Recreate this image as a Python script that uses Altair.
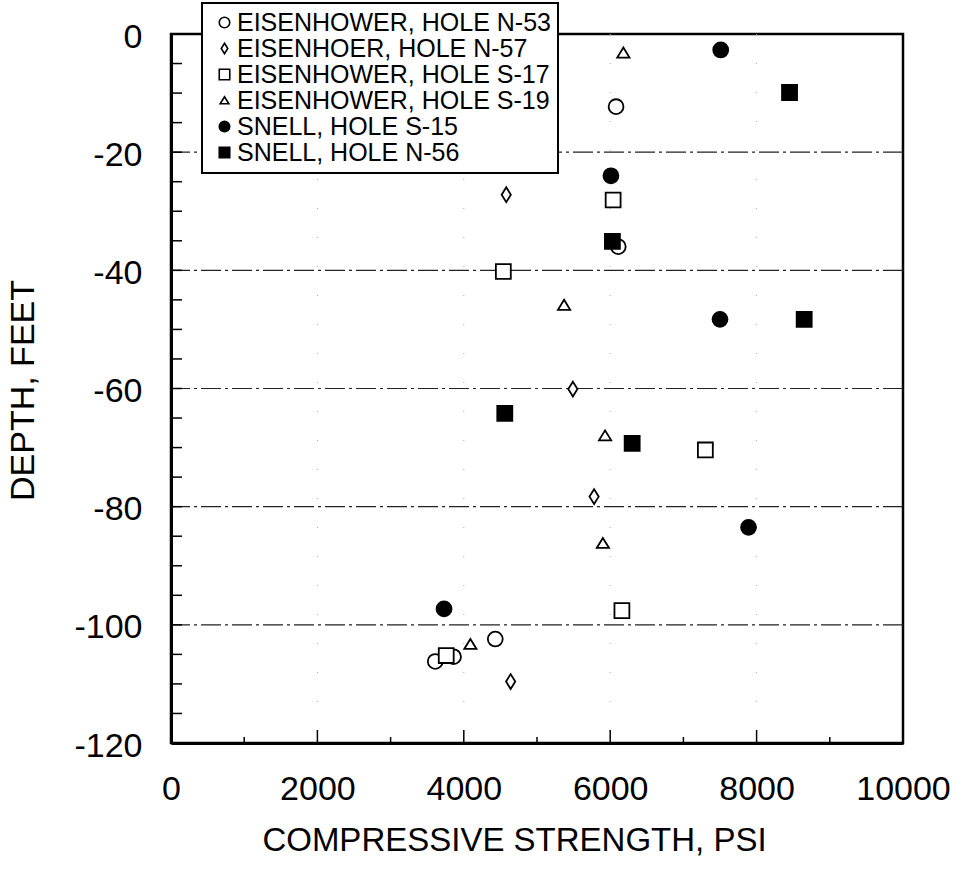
import altair as alt
import pandas as pd

# ---- data ----
series_names = [
    "EISENHOWER, HOLE N-53",
    "EISENHOER, HOLE N-57",
    "EISENHOWER, HOLE S-17",
    "EISENHOWER, HOLE S-19",
    "SNELL, HOLE S-15",
    "SNELL, HOLE N-56",
]
series_codes = ["N53", "N57", "S17", "S19", "S15", "N56"]

n53_psi = [6080, 6110, 4430, 3610, 3860]
n53_depth = [-12.3, -36.0, -102.4, -106.2, -105.4]

n57_psi = [4580, 5490, 5780, 4640]
n57_depth = [-27.2, -60.1, -78.3, -109.6]

s17_psi = [6040, 4540, 7300, 6160, 3760]
s17_depth = [-28.1, -40.2, -70.4, -97.6, -105.2]

s19_psi = [6180, 5370, 5930, 5900, 4090]
s19_depth = [-3.2, -45.9, -68.0, -86.2, -103.3]

s15_psi = [7510, 6010, 7500, 7890, 3730]
s15_depth = [-2.7, -24.0, -48.3, -83.5, -97.3]

n56_psi = [8450, 6030, 8650, 4560, 6300]
n56_depth = [-9.9, -35.1, -48.3, -64.2, -69.3]

x_tick_labels = [0, 2000, 4000, 6000, 8000, 10000]
x_minor_ticks = [1000, 3000, 5000, 7000, 9000]
x_major_ticks = [2000, 4000, 6000, 8000]
y_tick_labels = [0, -20, -40, -60, -80, -100, -120]
y_minor_ticks = [-5, -10, -15, -20, -25, -30, -35, -40, -45, -50, -55, -60,
                 -65, -70, -75, -80, -85, -90, -95, -100, -105, -110, -115]
y_grid = [-20, -40, -60, -80, -100]
x_faint_grid = [2000, 4000, 6000, 8000]

# ---- build table ----
rows = []
for name, code, xs, ys in zip(
    series_names, series_codes,
    [n53_psi, n57_psi, s17_psi, s19_psi, s15_psi, n56_psi],
    [n53_depth, n57_depth, s17_depth, s19_depth, s15_depth, n56_depth],
):
    for x, y in zip(xs, ys):
        rows.append({"series": name, "code": code, "psi": x, "depth": y})
df = pd.DataFrame(rows)

W, H = 732, 709
FONT = "Liberation Sans"

xscale = alt.Scale(domain=[0, 10000], nice=False, zero=False)
yscale = alt.Scale(domain=[-120, 0], nice=False, zero=False)

diamond = "M0,-1L0.62,0L0,1L-0.62,0Z"
triangle = "M0,-0.72L0.82,0.62L-0.82,0.62Z"

shape_range = ["circle", diamond, "square", triangle, "circle", "square"]
fill_range = ["white", "white", "white", "white", "black", "black"]
stroke_range = ["black"] * 6
size_range = [220, 225, 215, 210, 175, 215]

label_expr = "'' + datum.value"

x_axis = alt.Axis(
    values=x_tick_labels, labelExpr=label_expr, ticks=False, grid=False,
    labelFontSize=34, labelFont=FONT, labelColor="black", labelPadding=29,
    labelFlush=False, domainColor="black", domainWidth=3,
    title="COMPRESSIVE STRENGTH, PSI", titleFont=FONT, titleFontSize=33,
    titleFontWeight="normal", titleColor="black",
    titleX=343, titleY=97, titleBaseline="middle", titleAlign="center",
)
y_axis = alt.Axis(
    values=y_tick_labels, labelExpr=label_expr, ticks=False, grid=False,
    labelFontSize=34, labelFont=FONT, labelColor="black", labelPadding=29,
    labelOffset=3, labelFlush=False, domainColor="black", domainWidth=3,
    title="DEPTH, FEET", titleFont=FONT, titleFontSize=34,
    titleFontWeight="normal", titleColor="black", titleAngle=270,
    titleX=-148, titleY=356, titleBaseline="middle", titleAlign="center",
)

grid = alt.Chart(pd.DataFrame({"g": y_grid})).mark_rule(
    color="#222", strokeWidth=1.2, strokeDash=[20, 4, 3, 4]
).encode(y=alt.Y("g:Q", scale=yscale, axis=y_axis))

faint = alt.Chart(pd.DataFrame({"g": x_faint_grid})).mark_rule(
    color="#aaa", strokeWidth=1, strokeDash=[1, 28]
).encode(x=alt.X("g:Q", scale=xscale, axis=x_axis))

ytick = alt.Chart(pd.DataFrame({"t": y_minor_ticks})).mark_rule(
    color="black", strokeWidth=1.5
).encode(y=alt.Y("t:Q", scale=yscale, axis=y_axis), x=alt.value(0), x2=alt.value(11))

xtick_minor = alt.Chart(pd.DataFrame({"t": x_minor_ticks})).mark_rule(
    color="black", strokeWidth=1.5
).encode(x=alt.X("t:Q", scale=xscale, axis=x_axis), y=alt.value(H), y2=alt.value(H - 6))

xtick_major = alt.Chart(pd.DataFrame({"t": x_major_ticks})).mark_rule(
    color="black", strokeWidth=1.5
).encode(x=alt.X("t:Q", scale=xscale, axis=x_axis), y=alt.value(H), y2=alt.value(H - 13))

legend = alt.Legend(
    title=None, orient="none", legendX=31, legendY=-31,
    labelFont=FONT, labelFontSize=25, labelColor="black", labelLimit=600,
    labelOffset=0, symbolSize=110, symbolStrokeColor="black",
    symbolStrokeWidth=1.6, symbolOffset=3, rowPadding=0, padding=7,
    strokeColor="black", fillColor="white",
)

points = alt.Chart(df).mark_point(
    filled=True, stroke="black", strokeWidth=1.8, opacity=1
).encode(
    x=alt.X("psi:Q", scale=xscale, axis=x_axis),
    y=alt.Y("depth:Q", scale=yscale, axis=y_axis),
    shape=alt.Shape("series:N", scale=alt.Scale(domain=series_names, range=shape_range), legend=legend),
    fill=alt.Fill("series:N", scale=alt.Scale(domain=series_names, range=fill_range), legend=legend),
    stroke=alt.Stroke("series:N", scale=alt.Scale(domain=series_names, range=stroke_range), legend=legend),
    size=alt.Size("code:N", scale=alt.Scale(domain=series_codes, range=size_range), legend=None),
)

chart = alt.layer(faint, grid, ytick, xtick_minor, xtick_major, points).properties(
    width=W, height=H,
    background="white",
    autosize=alt.AutoSizeParams(type="none"),
    padding={"left": 171, "top": 34, "right": 60, "bottom": 127},
).configure_view(
    stroke="black", strokeWidth=2.5
).configure_legend(
    strokeWidth=2
)

chart.save("out.html", embed_options={"renderer": "svg", "actions": False})
